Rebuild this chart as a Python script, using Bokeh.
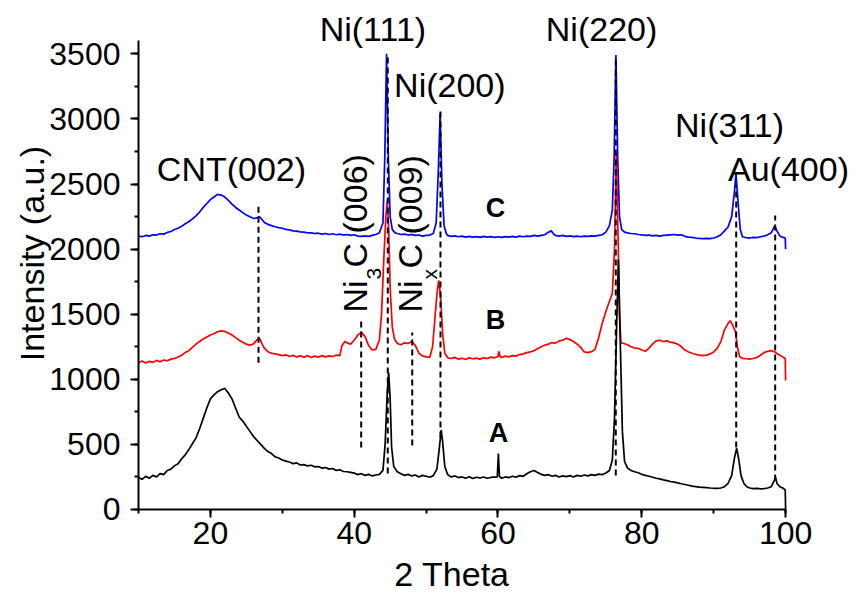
import math
from bokeh.plotting import figure
from bokeh.models import Range1d, SingleIntervalTicker, ColumnDataSource
from bokeh.core.properties import value
from bokeh.embed import file_html
from bokeh.resources import INLINE

FONT = "Liberation Sans"

# ---- Curve A (black) ----
xa = [10, 10.5, 11, 11.5, 12, 12.5, 13, 13.5, 14, 14.5, 15, 15.5, 16, 16.5, 17, 17.5, 18, 18.5, 19, 19.5,
      20, 20.5, 21, 21.5, 22, 22.5, 23, 23.5, 24, 24.5, 25, 25.5, 26, 26.5, 27, 27.5, 28, 28.5, 29, 29.5,
      30, 30.5, 31, 31.5, 32, 32.5, 33, 33.5, 34, 34.5, 35, 35.5, 36, 36.5, 37, 37.5, 38, 38.5, 39, 39.5,
      40, 40.5, 41, 41.5, 42, 42.5, 43, 43.5, 44, 44.3, 44.6, 44.8, 45.0, 45.2, 45.5, 46, 46.5, 47, 47.5,
      48, 48.5, 49, 49.5, 50, 50.5, 51, 51.5, 51.8, 52.1, 52.3, 52.6, 53, 53.5, 54, 54.5, 55, 55.5, 56,
      56.5, 57, 57.5, 58, 58.5, 59, 59.9, 60.05, 60.2, 60.5, 61, 61.5, 62, 62.5, 63, 63.5, 64, 64.5, 65,
      65.5, 66, 66.5, 67, 67.5, 68, 68.5, 69, 69.5, 70, 70.5, 71, 71.5, 72, 72.5, 73, 73.5, 74, 74.5, 75,
      75.5, 75.9, 76.2, 76.5, 76.75, 77.0, 77.3, 77.6, 78, 78.5, 79, 79.5, 80, 80.5, 81, 81.5, 82, 82.5,
      83, 83.5, 84, 84.5, 85, 85.5, 86, 86.5, 87, 87.5, 88, 88.5, 89, 89.5, 90, 90.5, 91, 91.5, 92, 92.5,
      92.9, 93.2, 93.5, 93.8, 94.2, 94.6, 95, 95.5, 96, 96.5, 97, 97.5, 98, 98.4, 98.6, 98.8, 99.2, 99.6,
      99.95, 100]
ya = [245, 232, 255, 240, 262, 250, 275, 268, 300, 310, 335, 352, 390, 420, 460, 505, 550, 620, 700, 780,
      850, 880, 905, 920, 930, 895, 850, 780, 710, 680, 640, 600, 560, 530, 500, 470, 445, 430, 405, 395,
      380, 372, 365, 352, 358, 342, 345, 335, 340, 328, 330, 318, 322, 310, 315, 300, 305, 292, 290, 285,
      280, 268, 275, 262, 270, 258, 265, 270, 300, 500, 900, 1050, 850, 480, 330, 290, 275, 262, 270,
      258, 265, 250, 262, 255, 248, 260, 310, 450, 610, 520, 330, 268, 250, 258, 245, 250, 240, 252,
      238, 248, 242, 250, 240, 246, 250, 430, 255, 240, 250, 245, 255, 248, 260, 255, 275, 290, 300,
      285, 270, 262, 268, 255, 262, 250, 258, 252, 260, 250, 262, 255, 265, 258, 268, 262, 272, 268, 280,
      300, 380, 700, 1400, 1920, 1300, 600, 370, 320, 300, 290, 282, 270, 262, 255, 248, 240, 235,
      228, 222, 215, 210, 205, 198, 192, 186, 180, 176, 172, 170, 168, 165, 163, 162, 165, 175, 200, 260,
      400, 470, 380, 260, 200, 175, 165, 160, 162, 158, 160, 165, 175, 220, 246, 200, 175, 165,
      150, 0]

# ---- Curve B (red) ----
xb = [10, 10.5, 11, 11.5, 12, 12.5, 13, 13.5, 14, 14.5, 15, 15.5, 16, 16.5, 17, 17.5, 18, 18.5, 19, 19.5,
      20, 20.5, 21, 21.5, 22, 22.5, 23, 23.5, 24, 24.5, 25, 25.5, 26, 26.5, 26.8, 27.2, 27.5, 28, 28.5, 29,
      29.5, 30, 30.5, 31, 31.5, 32, 32.5, 33, 33.5, 34, 34.5, 35, 35.5, 36, 36.5, 37, 37.5, 38, 38.3, 38.7,
      39, 39.5, 40, 40.5, 41, 41.5, 42, 42.5, 43, 43.5, 43.8, 44.1, 44.4, 44.6, 44.8, 45.0, 45.3, 45.6, 46,
      46.5, 47, 47.5, 48, 48.5, 49, 49.5, 50, 50.5, 50.9, 51.2, 51.5, 51.75, 52.0, 52.3, 52.6, 53, 53.5, 54,
      54.5, 55, 55.5, 56, 56.5, 57, 57.5, 58, 58.5, 59, 59.5, 60, 60.1, 60.3, 60.5, 61, 61.5, 62, 62.5, 63,
      63.5, 64, 64.5, 65, 65.5, 66, 66.5, 67, 67.5, 68, 68.5, 69, 69.5, 70, 70.5, 71, 71.5, 72, 72.5, 73,
      73.5, 74, 74.5, 75, 75.5, 75.9, 76.2, 76.45, 76.7, 76.9, 77.1, 77.5, 78, 78.5, 79, 79.5, 80, 80.5, 81,
      81.5, 82, 82.5, 83, 83.5, 84, 84.5, 85, 85.5, 86, 86.5, 87, 87.5, 88, 88.5, 89, 89.5, 90, 90.5, 91,
      91.5, 92, 92.3, 92.6, 93, 93.3, 93.6, 94, 94.5, 95, 95.5, 96, 96.5, 97, 97.5, 98, 98.5, 99, 99.5,
      99.95, 100]
yb = [1128, 1140, 1125, 1138, 1130, 1145, 1135, 1148, 1142, 1155, 1160, 1172, 1185, 1205, 1220, 1245, 1270,
      1290, 1310, 1325, 1340, 1350, 1365, 1372, 1368, 1355, 1340, 1320, 1300, 1285, 1270, 1262, 1272, 1305,
      1318, 1270, 1240, 1212, 1200, 1195, 1190, 1182, 1188, 1175, 1185, 1172, 1180, 1170, 1182, 1168, 1178,
      1170, 1182, 1172, 1180, 1175, 1185, 1182, 1260, 1290, 1280, 1270, 1300, 1340, 1360, 1330, 1260, 1225,
      1230, 1300, 1500, 1900, 2250, 2370, 2150, 1700, 1400, 1310, 1275, 1265, 1280, 1275, 1290, 1260, 1200,
      1180, 1172, 1168, 1250, 1450, 1650, 1760, 1650, 1350, 1200, 1165, 1160, 1168, 1155, 1162, 1152, 1165,
      1158, 1162, 1155, 1165, 1160, 1170, 1165, 1175, 1215, 1175, 1168, 1178, 1172, 1182, 1178, 1190, 1195,
      1205, 1210, 1220, 1235, 1250, 1262, 1270, 1282, 1278, 1295, 1300, 1315, 1305, 1290, 1270, 1245, 1210,
      1205, 1212, 1230, 1320, 1430, 1520, 1600, 1660, 2000, 2740, 2100, 1500, 1280, 1275, 1265, 1250, 1240,
      1238, 1225, 1215, 1240, 1270, 1295, 1300, 1290, 1295, 1285, 1280, 1270, 1250, 1225, 1210, 1200, 1192,
      1185, 1182, 1185, 1195, 1210, 1240, 1290, 1380, 1430, 1450, 1420, 1370, 1250, 1175, 1160, 1158, 1155,
      1160, 1168, 1185, 1205, 1215, 1220, 1210, 1190, 1175, 1160, 990]

# ---- Curve C (blue) ----
xc = [10, 10.5, 11, 11.5, 12, 12.5, 13, 13.5, 14, 14.5, 15, 15.5, 16, 16.5, 17, 17.5, 18, 18.5, 19, 19.5,
      20, 20.5, 21, 21.5, 22, 22.5, 23, 23.5, 24, 24.5, 25, 25.5, 26, 26.5, 26.8, 27.2, 27.5, 28, 28.5, 29,
      29.5, 30, 30.5, 31, 31.5, 32, 32.5, 33, 33.5, 34, 34.5, 35, 35.5, 36, 36.5, 37, 37.5, 38, 38.5, 39,
      39.5, 40, 40.5, 41, 41.5, 42, 42.5, 43, 43.5, 44.0, 44.25, 44.5, 44.75, 45.0, 45.3, 45.7, 46, 46.5,
      47, 47.5, 48, 48.5, 49, 49.5, 50, 50.5, 51, 51.4, 51.7, 51.95, 52.2, 52.5, 52.8, 53, 53.5, 54, 54.5,
      55, 55.5, 56, 56.5, 57, 57.5, 58, 58.5, 59, 59.5, 60, 60.5, 61, 61.5, 62, 62.5, 63, 63.5, 64, 64.5,
      65, 65.5, 66, 66.5, 67, 67.4, 67.8, 68, 68.5, 69, 69.5, 70, 70.5, 71, 71.5, 72, 72.5, 73, 73.5, 74,
      74.5, 75, 75.5, 75.9, 76.15, 76.4, 76.65, 76.9, 77.2, 77.6, 78, 78.5, 79, 79.5, 80, 80.5, 81, 81.5,
      82, 82.5, 83, 83.5, 84, 84.5, 85, 85.5, 86, 86.5, 87, 87.5, 88, 88.5, 89, 89.5, 90, 90.5, 91, 91.5,
      92, 92.5, 92.9, 93.1, 93.4, 93.7, 94, 94.5, 95, 95.5, 96, 96.5, 97, 97.5, 98, 98.5, 98.8, 99.2, 99.6,
      99.95, 100]
yc = [2100, 2095, 2105, 2100, 2110, 2108, 2118, 2115, 2128, 2135, 2150, 2160, 2175, 2195, 2210, 2232, 2255,
      2285, 2320, 2350, 2380, 2400, 2420, 2415, 2400, 2375, 2345, 2320, 2300, 2280, 2262, 2248, 2235, 2240,
      2250, 2225, 2205, 2190, 2180, 2172, 2165, 2160, 2152, 2148, 2140, 2138, 2132, 2130, 2125, 2125, 2120,
      2122, 2115, 2120, 2112, 2118, 2110, 2115, 2108, 2112, 2105, 2110, 2100, 2098, 2102, 2098, 2105, 2112,
      2125, 2200, 2700, 3500, 2700, 2250, 2150, 2125, 2120, 2112, 2115, 2108, 2112, 2105, 2108, 2100, 2105,
      2108, 2120, 2200, 2600, 3040, 2500, 2180, 2120, 2105, 2098, 2102, 2095, 2100, 2092, 2098, 2092, 2096,
      2090, 2098, 2092, 2096, 2090, 2095, 2090, 2096, 2092, 2098, 2092, 2100, 2095, 2100, 2098, 2105, 2100,
      2105, 2110, 2130, 2140, 2112, 2105, 2100, 2105, 2098, 2102, 2096, 2100, 2095, 2100, 2098, 2102, 2100,
      2105, 2110, 2130, 2180, 2300, 2700, 3490, 2700, 2250, 2150, 2130, 2125, 2120, 2118, 2112, 2110, 2105,
      2108, 2102, 2105, 2100, 2105, 2108, 2110, 2112, 2108, 2110, 2098, 2092, 2090, 2085, 2082, 2080, 2082,
      2080, 2085, 2095, 2110, 2140, 2170, 2250, 2450, 2580, 2350, 2150, 2095, 2088, 2085, 2090, 2088, 2095,
      2100, 2110, 2125, 2180, 2140, 2100, 2090, 2085, 2000]

# ---- Reference lines (dashed) ----
ref_x = [26.69, 40.97, 44.67, 48.07, 52.0, 76.38, 93.13, 98.55]
ref_bottom = [1128, 476, 276, 492, 553, 261, 476, 223]
ref_top = [2356, 1467, 3502, 1359, 3088, 3487, 2488, 2258]

# ---- Peak labels ----
peak_text = ["CNT(002)", "Ni(111)", "Ni(200)", "Ni(220)", "Ni(311)", "Au(400)"]
peak_x = [22.93, 42.6, 53.3, 74.4, 92.2, 100.4]
peak_y = [2615, 3691, 3261, 3691, 2953, 2615]

# rotated carbide labels: pieces (text, x, y, x_offset, y_offset, size)
rot_text = ["Ni", "3", "C (006)", "Ni", "x", "C (009)"]
rot_x = [40.18, 40.18, 40.18, 47.83, 47.83, 47.83]
rot_y = [1513, 1513, 1513, 1513, 1513, 1513]
rot_xoff = [0, 19, 0, 0, 19, 0]
rot_yoff = [0, -33, -45, 0, -33, -44]
rot_size = ["34px", "21px", "34px", "34px", "21px", "34px"]

# sample letters
samp_text = ["C", "B", "A"]
samp_x = [59.65, 59.65, 60.07]
samp_y = [2318, 1458, 590]

# axis titles (positions in data units)
xtitle = "2 Theta"
xtitle_pos = (53.6, -495)
ytitle = "Intensity (a.u.)"
ytitle_pos = (-4.88, 1966)

p = figure(width=857, height=592, x_range=Range1d(-9.193, 110.0), y_range=Range1d(-637.5, 3909.4),
           output_backend="svg", toolbar_location=None,
           min_border_left=0, min_border_right=0, min_border_top=0, min_border_bottom=0)
p.outline_line_color = None
p.grid.visible = False

xax = p.xaxis[0]
xax.ticker = SingleIntervalTicker(interval=20, num_minor_ticks=2)
xax.bounds = (10, 100)
xax.fixed_location = 0
yax = p.yaxis[0]
yax.ticker = SingleIntervalTicker(interval=500, num_minor_ticks=2)
yax.bounds = (0, 3600)
yax.fixed_location = 10
for ax in (xax, yax):
    ax.axis_line_width = 2
    ax.major_tick_line_width = 2
    ax.minor_tick_line_width = 2
    ax.major_tick_out = 8
    ax.major_tick_in = 0
    ax.minor_tick_out = 4
    ax.minor_tick_in = 0
    ax.major_label_text_font = FONT
    ax.major_label_text_font_size = "32px"
    ax.major_label_text_color = "black"
    ax.axis_line_color = "black"
    ax.major_tick_line_color = "black"
    ax.minor_tick_line_color = "black"
xax.major_label_standoff = 5
yax.major_label_standoff = 10

p.line(xc, yc, line_color="#0000FF", line_width=1.7)
p.line(xb, yb, line_color="#FF0000", line_width=1.7)
p.line(xa, ya, line_color="black", line_width=1.7)

p.segment(x0=ref_x, y0=ref_bottom, x1=ref_x, y1=ref_top, line_color="black",
          line_width=2, line_dash="6 4")

p.text(x=peak_x, y=peak_y, text=peak_text, text_font=value(FONT), text_font_size="34px",
       text_align="center", text_baseline="alphabetic", text_color="black")

rot_src = ColumnDataSource(dict(x=rot_x, y=rot_y, t=rot_text, xo=rot_xoff, yo=rot_yoff, s=rot_size))
p.text(x="x", y="y", text="t", source=rot_src, x_offset="xo", y_offset="yo", text_font_size="s",
       angle=math.pi / 2, text_font=value(FONT), text_align="left", text_baseline="middle",
       text_color="black")

p.text(x=samp_x, y=samp_y, text=samp_text, text_font=value(FONT), text_font_size="27px",
       text_font_style="bold", text_align="center", text_baseline="alphabetic", text_color="black")

p.text(x=[xtitle_pos[0]], y=[xtitle_pos[1]], text=[xtitle], text_font=value(FONT),
       text_font_size="34px", text_align="center", text_baseline="alphabetic", text_color="black")
p.text(x=[ytitle_pos[0]], y=[ytitle_pos[1]], text=[ytitle], text_font=value(FONT),
       text_font_size="34px", text_align="center", text_baseline="middle", angle=math.pi / 2,
       text_color="black")

open("out.html", "w").write(file_html(p, INLINE))
